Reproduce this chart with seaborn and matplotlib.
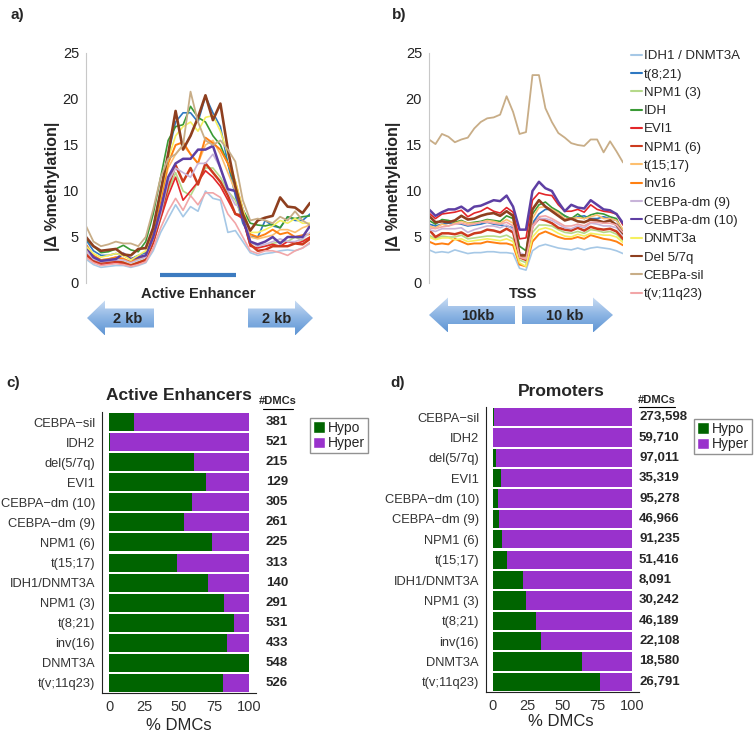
import numpy as np
import pandas as pd
import seaborn as sns
import matplotlib.pyplot as plt
from matplotlib.patches import Polygon, Patch
from matplotlib.lines import Line2D
from matplotlib.colors import LinearSegmentedColormap

# ---------------- data: methylation profiles (a, b) ----------------
groups = ["IDH1 / DNMT3A", "t(8;21)", "NPM1 (3)", "IDH", "EVI1", "NPM1 (6)", "t(15;17)",
          "Inv16", "CEBPa-dm (9)", "CEBPa-dm (10)", "DNMT3a", "Del 5/7q", "CEBPa-sil", "t(v;11q23)"]
colors = ["#a6c8e6", "#2e78c2", "#b5d98a", "#3a9a35", "#e3262a", "#cc3b1e", "#fdbf6f",
          "#ff8012", "#c8b4d9", "#5e3fa3", "#f5f060", "#8e3f1f", "#c8ad87", "#f2a6a8"]
widths = [1.2, 1.2, 1.2, 1.2, 1.2, 1.8, 1.2, 1.4, 1.2, 1.8, 1.2, 1.9, 1.3, 1.2]

# active enhancer profiles (31 bins)
enh_idh1_dnmt3a = [2.6, 2.0, 1.7, 1.8, 1.9, 1.9, 1.7, 1.9, 2.2, 3.5, 5.5, 7.0, 8.5, 7.2, 8.3, 7.8,
                   10.0, 9.2, 9.0, 5.5, 5.7, 4.5, 3.3, 3.0, 3.2, 3.3, 3.5, 3.6, 3.5, 3.8, 4.3]
enh_t821 = [4.7, 3.5, 3.0, 3.0, 3.2, 3.0, 2.6, 3.0, 3.3, 6.0, 10.0, 14.0, 17.5, 18.5, 18.5, 17.5,
            20.3, 18.5, 17.0, 13.0, 9.5, 6.5, 5.0, 5.0, 6.8, 6.2, 6.0, 7.2, 6.8, 6.8, 7.5]
enh_npm1_3 = [3.5, 2.5, 2.2, 2.3, 2.4, 2.3, 2.0, 2.3, 2.6, 4.5, 7.0, 10.0, 12.0, 10.0, 9.5, 11.0,
              12.5, 12.5, 11.5, 10.0, 9.0, 7.0, 4.5, 4.0, 4.0, 4.3, 4.5, 4.5, 5.0, 4.6, 5.0]
enh_idh = [4.8, 4.0, 3.3, 3.4, 3.7, 4.1, 3.6, 3.4, 4.5, 7.5, 11.5, 15.5, 17.0, 17.2, 19.2, 18.0,
           17.5, 16.0, 15.0, 13.0, 10.5, 8.0, 6.5, 6.3, 6.2, 6.4, 6.0, 7.2, 7.0, 7.2, 7.3]
enh_evi1 = [3.2, 2.3, 2.0, 2.1, 2.2, 2.1, 1.9, 2.2, 2.5, 4.3, 7.0, 9.5, 11.5, 9.0, 10.0, 11.0,
            12.2, 11.5, 10.5, 9.0, 7.5, 7.0, 4.0, 3.8, 4.0, 4.2, 4.0, 4.5, 4.3, 4.5, 5.0]
enh_npm1_6 = [3.0, 2.4, 2.2, 2.3, 2.4, 2.2, 1.9, 2.2, 2.5, 4.5, 7.5, 10.5, 12.8, 11.0, 12.5, 10.7,
              13.0, 12.0, 11.0, 9.5, 7.5, 7.3, 4.2, 3.5, 3.6, 4.0, 4.0, 4.0, 4.3, 4.2, 4.8]
enh_t1517 = [3.8, 2.8, 2.5, 2.6, 2.8, 2.7, 2.2, 2.6, 3.0, 5.5, 9.0, 12.5, 14.0, 15.0, 14.0, 13.0,
             15.0, 15.5, 14.0, 12.0, 10.0, 7.5, 5.0, 4.8, 5.0, 5.2, 5.8, 5.8, 5.5, 6.0, 6.3]
enh_inv16 = [4.2, 3.0, 2.5, 2.6, 2.8, 2.6, 2.3, 2.7, 3.0, 5.5, 9.0, 13.0, 15.0, 15.3, 14.0, 13.0,
             15.8, 15.2, 14.5, 13.0, 11.0, 8.0, 5.3, 5.0, 5.3, 5.8, 5.3, 5.5, 5.0, 5.2, 5.3]
enh_dm9 = [3.5, 2.6, 2.3, 2.4, 2.5, 2.5, 2.2, 2.5, 2.8, 4.8, 7.5, 11.0, 12.5, 12.0, 11.5, 13.0,
           13.0, 14.0, 12.5, 10.0, 8.5, 8.2, 4.5, 4.0, 4.2, 4.5, 4.8, 4.5, 4.5, 4.8, 5.5]
enh_dm10 = [4.0, 2.8, 2.4, 2.5, 2.6, 3.2, 2.6, 2.8, 3.0, 5.0, 8.0, 11.5, 13.0, 13.5, 13.5, 14.5,
            14.5, 14.9, 12.5, 10.2, 10.0, 7.0, 4.5, 4.2, 4.5, 5.0, 4.3, 5.0, 5.0, 5.0, 6.2]
enh_dnmt3a = [4.0, 3.2, 2.8, 3.0, 3.2, 3.0, 2.5, 3.0, 3.5, 6.0, 9.5, 13.5, 16.0, 17.0, 17.5, 16.5,
              18.0, 18.2, 16.5, 14.0, 11.0, 8.0, 5.5, 5.5, 5.8, 6.2, 6.8, 6.5, 7.0, 6.5, 6.5]
enh_del57 = [5.0, 4.0, 3.5, 3.6, 3.7, 3.1, 3.0, 3.7, 3.8, 6.0, 10.0, 14.0, 18.7, 14.5, 16.0, 18.0,
             20.4, 17.7, 19.5, 14.5, 10.5, 7.5, 5.7, 6.8, 7.1, 7.3, 9.3, 8.3, 8.2, 7.6, 8.7]
enh_sil = [6.2, 4.5, 4.0, 4.2, 4.5, 4.3, 4.3, 4.0, 5.0, 8.0, 11.5, 13.5, 14.0, 15.0, 20.8, 17.5,
           15.5, 15.0, 15.5, 14.5, 13.2, 9.0, 6.8, 7.0, 6.8, 6.5, 7.2, 6.8, 7.8, 6.8, 6.3]
enh_tv11 = [2.8, 2.2, 1.9, 2.0, 2.1, 2.0, 1.8, 2.0, 2.3, 3.8, 6.0, 7.8, 9.2, 7.9, 9.5, 8.5,
            9.8, 9.8, 9.3, 7.5, 6.5, 5.0, 3.5, 3.2, 3.5, 3.5, 3.3, 3.0, 3.5, 3.8, 4.4]

# TSS profiles (31 bins)
tss_idh1_dnmt3a = [3.6, 3.3, 3.4, 3.3, 3.6, 3.4, 3.2, 3.3, 3.3, 3.4, 3.4, 3.3, 3.3, 3.2, 1.6, 1.4,
                   3.5, 4.0, 4.2, 4.0, 3.8, 3.7, 3.6, 3.8, 3.6, 3.8, 3.9, 3.8, 3.7, 3.5, 3.2]
tss_t821 = [6.4, 6.2, 6.4, 6.5, 6.5, 6.4, 6.2, 6.3, 6.4, 6.6, 6.4, 6.3, 6.2, 6.0, 3.0, 2.8,
            6.5, 7.5, 8.0, 8.0, 7.7, 7.3, 6.9, 7.2, 7.3, 7.0, 7.0, 7.2, 7.0, 6.8, 5.7]
tss_npm1_3 = [5.2, 4.8, 5.1, 5.0, 5.0, 5.2, 4.8, 4.9, 5.0, 5.1, 5.1, 5.0, 5.2, 4.8, 2.5, 2.2,
              5.5, 6.3, 6.3, 6.2, 5.8, 5.5, 5.4, 5.6, 5.4, 5.8, 5.7, 5.5, 5.6, 5.3, 4.6]
tss_idh = [6.8, 6.4, 6.9, 6.8, 6.6, 6.8, 6.5, 6.6, 6.7, 6.9, 6.8, 6.7, 7.3, 7.0, 4.0, 3.5,
           7.5, 8.5, 8.8, 8.2, 7.8, 7.3, 7.0, 7.5, 7.0, 7.4, 7.6, 7.5, 7.2, 7.0, 5.5]
tss_evi1 = [7.6, 7.0, 7.5, 7.6, 7.7, 7.9, 7.2, 7.6, 7.8, 8.2, 7.8, 7.6, 8.2, 7.7, 4.8, 4.9,
            9.0, 9.8, 9.6, 9.5, 8.5, 7.8, 7.8, 8.0, 7.7, 8.5, 8.0, 7.8, 7.7, 7.5, 6.3]
tss_npm1_6 = [5.8, 5.0, 5.4, 5.4, 5.3, 5.5, 5.1, 5.4, 5.5, 5.8, 5.7, 5.5, 5.9, 5.5, 2.8, 2.5,
              6.2, 7.0, 6.8, 6.5, 6.0, 5.8, 5.7, 6.0, 5.7, 6.1, 5.9, 5.8, 5.9, 5.6, 4.8]
tss_t1517 = [6.2, 6.0, 6.4, 6.2, 6.5, 6.7, 6.5, 6.5, 6.6, 6.8, 6.7, 6.5, 6.9, 6.5, 3.0, 2.8,
             7.0, 8.2, 8.3, 8.0, 7.6, 7.0, 7.0, 7.1, 7.0, 7.2, 7.4, 7.0, 7.0, 6.8, 5.8]
tss_inv16 = [4.5, 4.2, 4.3, 4.2, 4.8, 4.5, 4.2, 4.3, 4.3, 4.5, 4.4, 4.3, 4.3, 4.1, 2.0, 1.8,
             4.5, 5.3, 5.6, 5.3, 5.0, 4.8, 4.8, 5.0, 4.8, 5.2, 5.0, 4.8, 4.7, 4.5, 4.1]
tss_dm9 = [5.8, 5.6, 5.9, 5.9, 5.9, 6.0, 5.5, 5.8, 6.0, 6.2, 6.2, 6.0, 6.3, 5.8, 3.3, 3.0,
           6.2, 7.0, 7.0, 6.8, 6.4, 6.0, 5.9, 6.2, 6.0, 6.5, 6.4, 6.2, 6.2, 6.0, 5.2]
tss_dm10 = [8.0, 7.3, 7.7, 8.0, 8.0, 8.3, 7.8, 8.3, 8.4, 8.7, 9.0, 8.9, 9.5, 8.3, 5.8, 5.8,
            10.0, 11.0, 10.3, 10.0, 8.8, 7.8, 8.5, 8.2, 8.1, 9.0, 8.5, 8.0, 7.9, 7.5, 6.5]
tss_dnmt3a = [5.0, 4.7, 4.9, 4.9, 4.7, 4.8, 4.5, 4.6, 4.7, 4.8, 4.7, 4.6, 4.8, 4.5, 2.2, 1.8,
              5.0, 5.8, 6.0, 5.8, 5.4, 5.1, 5.0, 5.3, 5.1, 5.4, 5.3, 5.2, 5.2, 5.0, 4.4]
tss_del57 = [7.3, 6.6, 6.7, 6.6, 6.8, 7.3, 6.9, 7.0, 7.3, 7.5, 7.6, 7.3, 7.8, 7.3, 3.0, 3.0,
             8.0, 9.0, 8.3, 7.8, 7.3, 6.8, 7.0, 6.7, 6.6, 6.9, 6.8, 6.6, 6.8, 6.3, 5.4]
tss_sil = [15.6, 15.1, 16.2, 15.9, 15.3, 15.6, 15.8, 16.8, 17.5, 17.9, 18.0, 18.3, 20.3, 18.6, 16.2, 16.4,
           22.6, 22.6, 19.0, 17.5, 16.3, 15.8, 15.2, 15.0, 14.9, 15.6, 15.6, 14.2, 15.4, 14.3, 13.1]
tss_tv11 = [6.0, 5.9, 6.1, 6.2, 6.4, 6.5, 6.3, 6.4, 6.6, 6.6, 6.5, 6.4, 6.6, 6.2, 2.8, 2.6,
            6.0, 7.2, 7.3, 7.0, 6.6, 6.2, 6.2, 6.4, 6.2, 6.6, 6.6, 6.5, 6.5, 6.3, 5.5]

enh_series = [enh_idh1_dnmt3a, enh_t821, enh_npm1_3, enh_idh, enh_evi1, enh_npm1_6, enh_t1517,
              enh_inv16, enh_dm9, enh_dm10, enh_dnmt3a, enh_del57, enh_sil, enh_tv11]
tss_series = [tss_idh1_dnmt3a, tss_t821, tss_npm1_3, tss_idh, tss_evi1, tss_npm1_6, tss_t1517,
              tss_inv16, tss_dm9, tss_dm10, tss_dnmt3a, tss_del57, tss_sil, tss_tv11]

# ---------------- data: DMC bars (c, d) ----------------
subtypes = ["CEBPA\u2212sil", "IDH2", "del(5/7q)", "EVI1", "CEBPA\u2212dm (10)", "CEBPA\u2212dm (9)",
            "NPM1 (6)", "t(15;17)", "IDH1/DNMT3A", "NPM1 (3)", "t(8;21)", "inv(16)", "DNMT3A", "t(v;11q23)"]
enh_hypo = [18.1, 0.5, 60.9, 69.2, 59.4, 53.7, 73.3, 48.4, 70.9, 82.3, 89.5, 84.5, 100, 81.4]
prom_hypo = [1.0, 0.3, 1.9, 5.5, 3.6, 4.3, 6.7, 10.2, 21.4, 23.6, 31.2, 34.3, 63.8, 77.1]
enh_ndmc = ["381", "521", "215", "129", "305", "261", "225", "313", "140", "291", "531", "433", "548", "526"]
prom_ndmc = ["273,598", "59,710", "97,011", "35,319", "95,278", "46,966", "91,235", "51,416",
             "8,091", "30,242", "46,189", "22,108", "18,580", "26,791"]

HYPO = "#006400"
HYPER = "#9932cc"

sns.set_style("white")
plt.rcParams['font.family'] = ['Liberation Sans', 'DejaVu Sans']

W, H = 754, 738
fig = plt.figure(figsize=(W / 100, H / 100), dpi=100)


def fx(x):
    return x / W


def fy(y):
    return 1 - y / H


def ftext(x, y, s, **kw):
    fig.text(fx(x), fy(y), s, **kw)


def profile_axes(rect, series):
    ax = fig.add_axes(rect)
    for i, (g, vals) in enumerate(zip(groups, series)):
        df = pd.DataFrame({"pos": np.arange(len(vals)), "val": vals})
        sns.lineplot(data=df, x="pos", y="val", color=colors[i], lw=widths[i], ax=ax, legend=False)
    ax.set_xlim(0, 30)
    ax.set_ylim(0, 25)
    ax.set_yticks([0, 5, 10, 15, 20, 25])
    ax.set_xticks([])
    ax.set_xlabel("")
    ax.set_ylabel("")
    for s in ["top", "right", "bottom"]:
        ax.spines[s].set_visible(False)
    ax.spines["left"].set_color("#c8c8c8")
    ax.tick_params(axis="y", length=3, color="#c8c8c8", labelsize=10.5, pad=2, labelcolor="#222222")
    ax.patch.set_alpha(0)
    return ax


ax_a = profile_axes([fx(86), fy(283), fx(224), 230 / H], enh_series)
ax_a.plot([9.9, 20.1], [0.9, 0.9], color="#3c7bc0", lw=3, solid_capstyle="butt")
ax_b = profile_axes([fx(429), fy(283), fx(194), 230 / H], tss_series)

ftext(52, 186, "|\u0394 %methylation|", rotation=90, ha="center", va="center",
      fontsize=11.5, fontweight="bold")
ftext(393, 186, "|\u0394 %methylation|", rotation=90, ha="center", va="center",
      fontsize=11.5, fontweight="bold")
ftext(198, 294, "Active Enhancer", ha="center", va="center", fontsize=10.5, fontweight="bold")
ftext(523, 294, "TSS", ha="center", va="center", fontsize=10.5, fontweight="bold")

handles = [Line2D([0], [0], color=c, lw=1.5) for c in colors]
fig.legend(handles, groups, loc="upper left", bbox_to_anchor=(fx(631), fy(50)), frameon=False,
           fontsize=9.5, handlelength=0.8, handletextpad=0.15, labelspacing=0.46,
           borderpad=0, borderaxespad=0)

# overlay for the blue direction arrows
ov = fig.add_axes([0, 0, 1, 1])
ov.set_xlim(0, W)
ov.set_ylim(H, 0)
ov.axis("off")
ov.patch.set_alpha(0)
cmap = LinearSegmentedColormap.from_list("arr", ["#c9dcf3", "#8db5e4", "#5f95d3"])
grad = np.linspace(0, 1, 64).reshape(-1, 1)


def arrow(tip, base, end, yc, hh=17.5, bh=9.5):
    pts = [(tip, yc), (base, yc - hh), (base, yc - bh), (end, yc - bh),
           (end, yc + bh), (base, yc + bh), (base, yc + hh)]
    poly = Polygon(pts, closed=True, facecolor="none", edgecolor="none")
    ov.add_patch(poly)
    x0, x1 = min(tip, end), max(tip, end)
    im = ov.imshow(grad, extent=[x0, x1, yc + hh, yc - hh], cmap=cmap, aspect="auto",
                   origin="upper", interpolation="bilinear")
    im.set_clip_path(poly)


arrow(87, 105, 154, 318)
arrow(313, 295, 248, 318)
arrow(429, 448, 515, 315, bh=9)
arrow(613, 593, 522, 315, bh=9)
ov.set_xlim(0, W)
ov.set_ylim(H, 0)
for x, y, s in [(128, 319, "2 kb"), (277, 319, "2 kb"), (478, 316, "10kb"), (565, 316, "10 kb")]:
    ftext(x, y, s, ha="center", va="center", fontsize=10.5, fontweight="bold")


def bar_axes(rect, hypo, title, title_xy):
    ax = fig.add_axes(rect)
    full = pd.DataFrame({"subtype": subtypes, "pct": [100] * len(subtypes)})
    part = pd.DataFrame({"subtype": subtypes, "pct": hypo})
    sns.barplot(data=full, x="pct", y="subtype", color=HYPER, saturation=1, width=0.9,
                linewidth=0, ax=ax)
    sns.barplot(data=part, x="pct", y="subtype", color=HYPO, saturation=1, width=0.9,
                linewidth=0, ax=ax)
    ax.set_xlim(-5, 105)
    ax.set_ylim(13.5, -0.5)
    ax.set_xticks([0, 25, 50, 75, 100])
    ax.set_xlabel("")
    ax.set_ylabel("")
    for s in ["top", "right"]:
        ax.spines[s].set_visible(False)
    for s in ["left", "bottom"]:
        ax.spines[s].set_color("#222222")
        ax.spines[s].set_linewidth(0.8)
    ax.tick_params(axis="both", length=3, width=0.8, color="#333333", labelcolor="#333333", pad=2)
    ax.tick_params(axis="y", labelsize=9.3)
    ax.tick_params(axis="x", labelsize=10.5)
    ftext(title_xy[0], title_xy[1], title, ha="center", va="center", fontsize=12.5, fontweight="bold")
    return ax


ax_c = bar_axes([fx(102), fy(693), fx(154), 281 / H], enh_hypo, "Active Enhancers", (179, 395))
ax_d = bar_axes([fx(486), fy(692), fx(153), 285 / H], prom_hypo, "Promoters", (561, 392))

for i, n in enumerate(enh_ndmc):
    ax_c.text(120, i, n, ha="center", va="center", fontsize=9.5, fontweight="bold", clip_on=False)
for i, n in enumerate(prom_ndmc):
    ax_d.text(105, i, n, ha="left", va="center", fontsize=9.5, fontweight="bold", clip_on=False)

ftext(278, 401, "#DMCs", ha="center", va="center", fontsize=8, fontweight="bold")
fig.add_artist(Line2D([fx(263), fx(293)], [fy(409), fy(409)], color="black", lw=0.8))
ftext(657, 400, "#DMCs", ha="center", va="center", fontsize=8, fontweight="bold")
fig.add_artist(Line2D([fx(639), fx(675)], [fy(407), fy(407)], color="black", lw=0.8))

ftext(179, 725, "% DMCs", ha="center", va="center", fontsize=12)
ftext(561, 722, "% DMCs", ha="center", va="center", fontsize=12)

leg_h = [Patch(facecolor=HYPO), Patch(facecolor=HYPER)]
for x0, y0 in [(310, 418), (694, 419)]:
    fig.legend(leg_h, ["Hypo", "Hyper"], loc="upper left", bbox_to_anchor=(fx(x0), fy(y0)),
               frameon=True, fancybox=False, edgecolor="#777777", fontsize=10,
               handlelength=0.9, handleheight=0.9, handletextpad=0.2, labelspacing=0.1,
               borderpad=0.2, borderaxespad=0)

for x, y, s in [(17, 15, "a)"), (399, 15, "b)"), (13, 383, "c)"), (398, 383, "d)")]:
    ftext(x, y, s, ha="center", va="center", fontsize=11, fontweight="bold")

fig.savefig("out.png", dpi=100)
